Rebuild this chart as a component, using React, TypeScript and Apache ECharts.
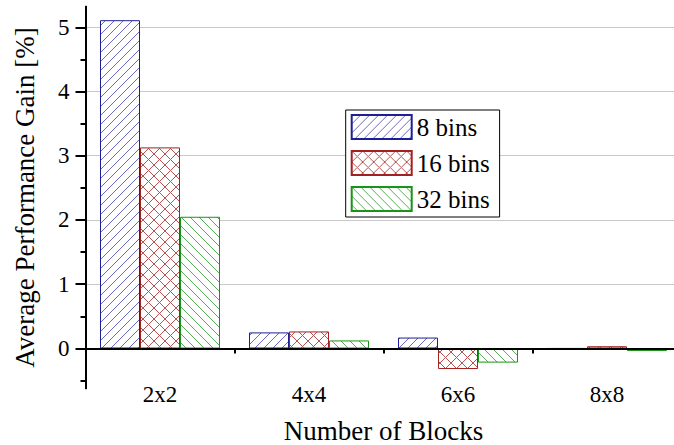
import React, { useEffect, useRef } from "react";
import * as echarts from "echarts";

const categories = ["2x2", "4x4", "6x6", "8x8"];
const seriesNames = ["8 bins", "16 bins", "32 bins"];
const bins8 = [5.11, 0.25, 0.17, 0];
const bins16 = [3.13, 0.265, -0.32, 0.035];
const bins32 = [2.05, 0.125, -0.22, -0.04];
const yLabelValues = [0, 1, 2, 3, 4, 5];
const yMinorTickValues = [-0.5, 0.5, 1.5, 2.5, 3.5, 4.5];
const yMin = -0.62;
const yMax = 5.32;

const FONT = "'Liberation Serif', 'Times New Roman', serif";

function hatch(kind: "fwd" | "back" | "cross", color: string, s: number) {
  const fwd = `M0,${s} L${s},0 M-1,1 L1,-1 M${s - 1},${s + 1} L${s + 1},${s - 1}`;
  const back = `M0,0 L${s},${s} M${s - 1},-1 L${s + 1},1 M-1,${s - 1} L1,${s + 1}`;
  const d = kind === "fwd" ? fwd : kind === "back" ? back : fwd + " " + back;
  const svg = `<svg xmlns="http://www.w3.org/2000/svg" width="${s}" height="${s}" viewBox="0 0 ${s} ${s}"><rect width="${s}" height="${s}" fill="#ffffff"/><path d="${d}" stroke="${color}" stroke-width="1" fill="none"/></svg>`;
  return {
    image: "data:image/svg+xml;charset=utf-8," + encodeURIComponent(svg),
    repeat: "repeat",
    imageWidth: s,
    imageHeight: s,
  } as any;
}

export default function App() {
  const ref = useRef<HTMLDivElement>(null);
  useEffect(() => {
    if (!ref.current) return;
    const chart = echarts.init(ref.current, null, { renderer: "svg" });
    const styles = [
      { border: "#1e1e96", fill: hatch("fwd", "#6a6ac2", 9) },
      { border: "#a32020", fill: hatch("cross", "#b85252", 11) },
      { border: "#189418", fill: hatch("back", "#55ad55", 9) },
    ];
    const datas = [bins8, bins16, bins32];
    const labelStyle = { fontFamily: FONT, fontSize: 23, color: "#000" };
    chart.setOption({
      animation: false,
      backgroundColor: "#ffffff",
      textStyle: { fontFamily: FONT, color: "#000" },
      grid: {
        left: 85.5,
        top: 6.7,
        width: 596,
        height: 381.6,
        containLabel: false,
        outerBoundsMode: "none",
      },
      legend: {
        orient: "vertical",
        left: 345.7,
        top: 110,
        icon: "rect",
        itemWidth: 60,
        itemHeight: 24,
        itemGap: 10,
        padding: [4, 10, 5, 5],
        borderColor: "#000",
        borderWidth: 1,
        backgroundColor: "#fff",
        textStyle: { fontFamily: FONT, fontSize: 25, color: "#000" },
        data: seriesNames,
      },
      xAxis: [
        {
          type: "category",
          data: categories,
          position: "bottom",
          axisLine: { show: false, onZero: false },
          axisTick: { show: false },
          axisLabel: { ...labelStyle, margin: -5 },
          name: "Number of Blocks",
          nameLocation: "middle",
          nameGap: 29,
          nameTextStyle: { fontFamily: FONT, fontSize: 27, color: "#000" },
        },
        {
          type: "category",
          data: categories,
          position: "bottom",
          z: 10,
          axisLine: { show: true, onZero: true, lineStyle: { color: "#000", width: 2 } },
          axisTick: { show: true, length: 5, lineStyle: { color: "#000", width: 2 } },
          axisLabel: { show: false },
        },
      ],
      yAxis: [
        {
          type: "value",
          min: yMin,
          max: yMax,
          position: "left",
          axisLine: { show: true, lineStyle: { color: "#000", width: 2 } },
          axisTick: {
            show: true,
            customValues: yLabelValues,
            length: 10,
            lineStyle: { color: "#000", width: 2 },
          },
          axisLabel: {
            ...labelStyle,
            customValues: yLabelValues,
            margin: 16,
          },
          splitLine: { show: true, lineStyle: { color: "#c8c8c8", width: 1 } },
          name: "Average Performance Gain [%]",
          nameLocation: "middle",
          nameGap: 47,
          nameTextStyle: { fontFamily: FONT, fontSize: 27, color: "#000" },
        },
        {
          type: "value",
          min: yMin,
          max: yMax,
          position: "left",
          axisLine: { show: true, lineStyle: { color: "#000", width: 2 } },
          axisTick: {
            show: true,
            customValues: yMinorTickValues,
            length: 5,
            lineStyle: { color: "#000", width: 2 },
          },
          axisLabel: { show: false },
          splitLine: { show: false },
        },
      ],
      series: seriesNames.map((name, i) => ({
        name,
        type: "bar",
        xAxisIndex: 0,
        yAxisIndex: 0,
        barWidth: 40,
        barGap: "0%",
        data: datas[i],
        itemStyle: {
          color: styles[i].fill,
          borderColor: styles[i].border,
          borderWidth: 1,
        },
      })),
    });
    return () => chart.dispose();
  }, []);
  return (
    <div
      ref={ref}
      style={{ position: "fixed", left: 0, top: 0, width: 674, height: 445 }}
    />
  );
}
